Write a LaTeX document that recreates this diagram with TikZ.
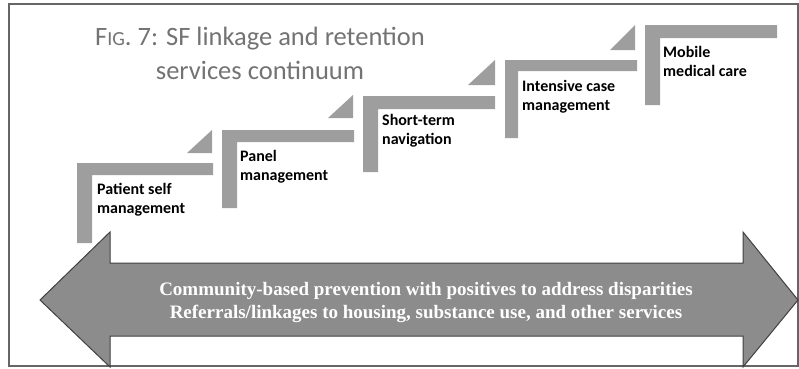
\documentclass[tikz,border=0pt]{standalone}
\usepackage{fontspec}
\setmainfont{Carlito}
\newfontfamily\bandfont{Liberation Serif}
\usetikzlibrary{calc,positioning}

\begin{document}
\begin{tikzpicture}[x=1pt,y=-1pt,
	band/.style={fill=black!38},
	wedge/.style={fill=black!38},
	step_label/.style={anchor=north west,inner sep=0pt,align=left,font=\bfseries\fontsize{16}{19}\selectfont},
	title_text/.style={text=black!55,align=center,font=\fontsize{26.5}{34}\selectfont},
	band_text/.style={text=white,align=center,font=\bandfont\bfseries\fontsize{19}{23}\selectfont}]

	\useasboundingbox (0,0) rectangle (799,368);
	\draw[black!60,line width=1.2pt] (9,4) rectangle (798,366);

	% title
	\node[title_text] (title) at (260,53) {F{\fontsize{20}{34}\selectfont IG}. 7: SF linkage and retention\\services continuum};

	% corners of the steps
	\coordinate (s1) at (77,163);
	\coordinate (s2) at (222,130);
	\coordinate (s3) at (363,96);
	\coordinate (s4) at (505,60);
	\coordinate (s5) at (645,25);

	% steps
	\fill[band] (s1) -- ++(136,0) -- ++(0,12) -- ++(-121,0) -- ++(0,68) -- ++(-15,0) -- cycle;
	\fill[band] (s2) -- ++(132,0) -- ++(0,12) -- ++(-117,0) -- ++(0,66) -- ++(-15,0) -- cycle;
	\fill[band] (s3) -- ++(132,0) -- ++(0,13) -- ++(-117,0) -- ++(0,63) -- ++(-15,0) -- cycle;
	\fill[band] (s4) -- ++(132,0) -- ++(0,11) -- ++(-119,0) -- ++(0,67) -- ++(-13,0) -- cycle;
	\fill[band] (s5) -- ++(132,0) -- ++(0,13) -- ++(-117,0) -- ++(0,67) -- ++(-15,0) -- cycle;

	% small wedges between the steps
	\fill[wedge] ($(s1)+(110,-10)$) -- ++(25,0) -- ++(0,-23) -- cycle;
	\fill[wedge] ($(s2)+(106,-12)$) -- ++(25,0) -- ++(0,-23) -- cycle;
	\fill[wedge] ($(s3)+(105,-11)$) -- ++(27,0) -- ++(0,-25) -- cycle;
	\fill[wedge] ($(s4)+(105,-10)$) -- ++(25,0) -- ++(0,-25) -- cycle;

	% labels
	\node[step_label] (l1) at ($(s1)+(20,20)$) {Patient self\\management};
	\node[step_label] (l2) at ($(s2)+(18,20)$) {Panel\\management};
	\node[step_label] (l3) at ($(s3)+(19,18)$) {Short-term\\navigation};
	\node[step_label] (l4) at ($(s4)+(17,20)$) {Intensive case\\management};
	\node[step_label] (l5) at ($(s5)+(18,21)$) {Mobile\\medical care};

	% double arrow
	\draw[fill=black!45,draw=black!75,line width=1pt]
		(40,300) -- (110,232) -- (110,263) -- (743,263) -- (743,232) -- (798,300)
		-- (743,367) -- (743,336) -- (110,336) -- (110,367) -- cycle;
	\node[band_text] (services) at (426,302) {Community-based prevention with positives to address disparities\\Referrals/linkages to housing, substance use, and other services};
\end{tikzpicture}
\end{document}
